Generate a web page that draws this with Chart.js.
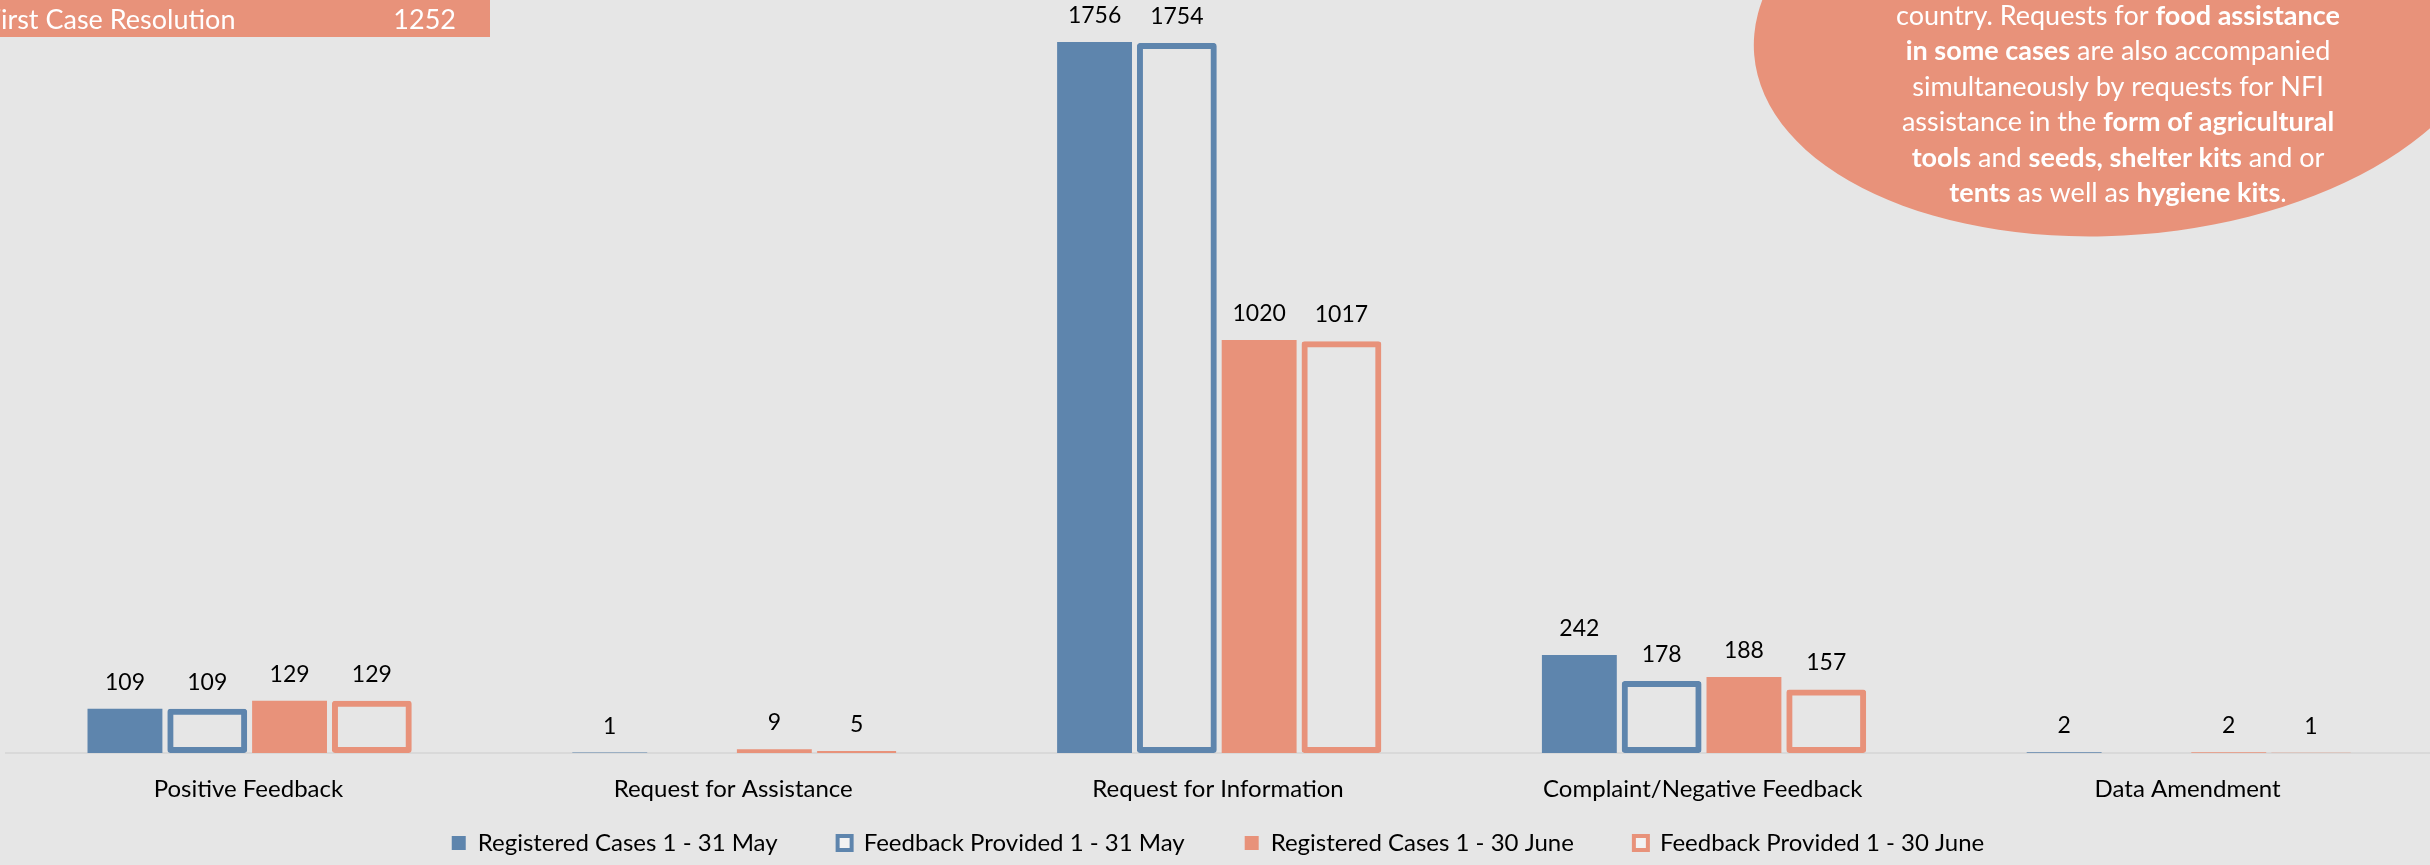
<!DOCTYPE html>
<html>
<head>
<meta charset="utf-8">
<script src="https://cdn.jsdelivr.net/npm/chart.js@4.4.1/dist/chart.umd.min.js"></script>
<style>
  html, body { margin: 0; padding: 0; background: #E6E6E6; overflow: hidden; }
  #wrap { width: 2430px; height: 865px; position: relative; }
</style>
</head>
<body>
<div id="wrap"><canvas id="c" width="2430" height="865"></canvas></div>
<script>
// ---------------- data ----------------
const categories = ['Positive Feedback', 'Request for Assistance', 'Request for Information', 'Complaint/Negative Feedback', 'Data Amendment'];
const seriesNames = ['Registered Cases 1 - 31 May', 'Feedback Provided 1 - 31 May', 'Registered Cases 1 - 30 June', 'Feedback Provided 1 - 30 June'];
const registeredMay  = [109, 1, 1756, 242, 2];
const feedbackMay    = [109, null, 1754, 178, null];
const registeredJune = [129, 9, 1020, 188, 2];
const feedbackJune   = [129, 5, 1017, 157, 1];

const bannerLabel = 'First Case Resolution';
const bannerValue = '1252';

// note text: each line is a list of [text, bold]
const noteLines = [
  [['country. Requests for ', false], ['food assistance', true]],
  [['in some cases', true], [' are also accompanied', false]],
  [['simultaneously by requests for NFI', false]],
  [['assistance in the ', false], ['form of agricultural', true]],
  [['tools', true], [' and ', false], ['seeds, shelter kits', true], [' and or', false]],
  [['tents', true], [' as well as ', false], ['hygiene kits', true], ['.', false]]
];

// ---------------- styles ----------------
const BLUE = '#5E85AD';
const ORANGE = '#E8927A';
const BG = '#E6E6E6';
const FONT = 'Lato';

const bgPlugin = {
  id: 'bg',
  beforeDraw(chart) {
    const ctx = chart.ctx;
    ctx.save();
    ctx.fillStyle = BG;
    ctx.fillRect(0, 0, chart.width, chart.height);
    ctx.restore();
  }
};

function drawRich(ctx, segs, cx, y, size) {
  let total = 0;
  const widths = segs.map(([t, b]) => {
    ctx.font = (b ? '700 ' : '400 ') + size + 'px ' + FONT;
    const w = ctx.measureText(t).width;
    total += w;
    return w;
  });
  let x = cx - total / 2;
  segs.forEach(([t, b], k) => {
    ctx.font = (b ? '700 ' : '400 ') + size + 'px ' + FONT;
    ctx.fillText(t, x, y);
    x += widths[k];
  });
}

const decoPlugin = {
  id: 'deco',
  beforeDatasetsDraw(chart) {
    const ctx = chart.ctx;
    ctx.save();
    // banner
    ctx.fillStyle = ORANGE;
    ctx.fillRect(0, 0, 490, 37);
    ctx.fillStyle = '#FFFFFF';
    ctx.font = '400 27px ' + FONT;
    ctx.textBaseline = 'alphabetic';
    ctx.textAlign = 'left';
    const fw = ctx.measureText('F').width;
    ctx.fillText(bannerLabel, 1 - fw, 29);
    ctx.textAlign = 'right';
    ctx.fillText(bannerValue, 456, 29);
    // ellipse note
    ctx.beginPath();
    ctx.ellipse(2125, 25, 372, 210, -0.08, 0, Math.PI * 2);
    ctx.fillStyle = ORANGE;
    ctx.fill();
    ctx.fillStyle = '#FFFFFF';
    ctx.textAlign = 'left';
    noteLines.forEach((segs, i) => drawRich(ctx, segs, 2118, 25 + i * 35.4, 27));
    ctx.restore();
  }
};

const valueLabels = {
  id: 'valueLabels',
  afterDatasetsDraw(chart) {
    const ctx = chart.ctx;
    ctx.save();
    ctx.font = '400 23px ' + FONT;
    ctx.fillStyle = '#000000';
    ctx.textAlign = 'center';
    ctx.textBaseline = 'alphabetic';
    chart.data.datasets.forEach((ds, i) => {
      const meta = chart.getDatasetMeta(i);
      if (meta.hidden) return;
      meta.data.forEach((el, j) => {
        const v = ds.data[j];
        if (v === null || v === undefined) return;
        ctx.fillText(String(v), el.x, el.y - 19);
      });
    });
    ctx.restore();
  }
};

const outline = [false, true, false, true];
const colors = [BLUE, BLUE, ORANGE, ORANGE];
const seriesData = [registeredMay, feedbackMay, registeredJune, feedbackJune];

const datasets = seriesData.map((d, i) => outline[i] ? {
  label: seriesNames[i],
  data: d,
  backgroundColor: 'rgba(0,0,0,0)',
  borderColor: colors[i],
  borderWidth: 6,
  borderSkipped: false,
  borderRadius: 3,
  barPercentage: 0.97,
  categoryPercentage: 0.679
} : {
  label: seriesNames[i],
  data: d,
  backgroundColor: colors[i],
  borderWidth: 0,
  barPercentage: 0.91,
  categoryPercentage: 0.679
});

new Chart(document.getElementById('c'), {
  type: 'bar',
  data: { labels: categories, datasets },
  options: {
    responsive: false,
    devicePixelRatio: 1,
    animation: false,
    layout: { padding: { left: 6, top: 0, right: 0, bottom: 0 } },
    scales: {
      x: {
        grid: { display: false },
        border: { display: true, color: '#D9D9D9', width: 2 },
        ticks: { font: { family: FONT, size: 24 }, color: '#000000', padding: -51, mirror: true, maxRotation: 0, autoSkip: false },
        afterFit(s) { s.height = 18; }
      },
      y: { display: false, min: 0, max: 1860 }
    },
    plugins: {
      legend: {
        position: 'bottom',
        labels: {
          font: { family: FONT, size: 24 },
          color: '#000000',
          boxWidth: 14,
          boxHeight: 14,
          padding: 60,
          generateLabels(chart) {
            const items = Chart.defaults.plugins.legend.labels.generateLabels(chart);
            items.forEach((it, i) => {
              if (outline[i]) {
                it.fillStyle = '#F2F2F2';
                it.strokeStyle = colors[i];
                it.lineWidth = 4;
              } else {
                it.lineWidth = 0;
              }
            });
            return items;
          }
        }
      },
      tooltip: { enabled: false }
    }
  },
  plugins: [bgPlugin, decoPlugin, valueLabels]
});
</script>
</body>
</html>
